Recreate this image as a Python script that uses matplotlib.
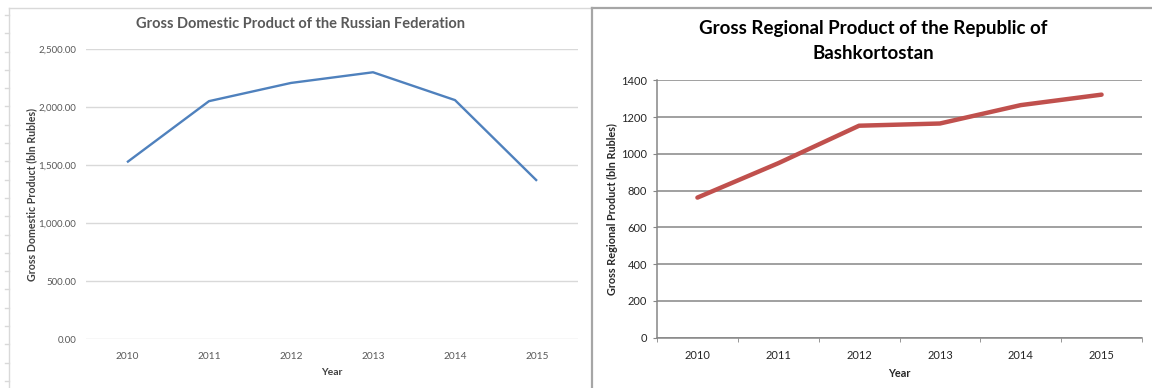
import matplotlib
matplotlib.use("Agg")
import matplotlib.pyplot as plt
from matplotlib.lines import Line2D
import numpy as np

plt.rcParams['font.family'] = ['Lato', 'DejaVu Sans']

# data
years = ['2010', '2011', '2012', '2013', '2014', '2015']
rf_gdp = [1526, 2053, 2210, 2302, 2062, 1366]        # bln rubles
bash_grp = [762, 949, 1153, 1165, 1265, 1322]        # bln rubles
rf_yticks = [0, 500, 1000, 1500, 2000, 2500]
bash_yticks = [0, 200, 400, 600, 800, 1000, 1200, 1400]

W, H = 1152, 388
fig = plt.figure(figsize=(W / 100, H / 100), dpi=100)


def box(x0, y0, x1, y1):
    # pixel box (top-left origin) -> figure fraction rect
    return [x0 / W, 1 - y1 / H, (x1 - x0) / W, (y1 - y0) / H]


def fline(xs, ys, **kw):
    fig.add_artist(Line2D([x / W for x in xs], [1 - y / H for y in ys],
                          transform=fig.transFigure, **kw))


# sheet frame bits
fline([9, 9], [8, 388], color='#d9d9d9', lw=1)
for y in np.arange(15, 388, 18.3):
    fline([5, 9], [y, y], color='#d9d9d9', lw=1)
fline([9, 591], [7.5, 7.5], color='#d9d9d9', lw=1)
fline([591.5, 591.5], [7.5, 388], color='#a6a6a6', lw=1.6)
fline([591.5, 1152], [7.5, 7.5], color='#a6a6a6', lw=1.6)

x = np.arange(len(years))

# ---- Russian Federation GDP
ax1 = fig.add_axes(box(86, 49.3, 578, 339.3))
ax1.plot(x, rf_gdp, color='#4f81bd', lw=1.7, solid_capstyle='butt')
ax1.set_xlim(-0.5, 5.5)
ax1.set_ylim(0, 2500)
ax1.set_yticks(rf_yticks)
ax1.set_yticklabels(['{:,.2f}'.format(v) for v in rf_yticks])
ax1.set_xticks(x)
ax1.set_xticklabels(years)
ax1.grid(axis='y', color='#d9d9d9', lw=1)
ax1.set_axisbelow(True)
for s in ax1.spines.values():
    s.set_visible(False)
ax1.tick_params(length=0, labelsize=7, colors='#595959', pad=7)
ax1.tick_params(axis='x', labelsize=7.3, pad=9)
ax1.set_xlabel('Year', fontsize=7.5, fontweight='bold', color='#404040', labelpad=5)
ax1.set_ylabel('Gross Domestic Product (bln Rubles)', fontsize=7.7,
               fontweight='bold', color='#404040')
ax1.yaxis.set_label_coords((37 - 86) / 492, 0.5)
fig.text(300 / W, 1 - 24 / H, 'Gross Domestic Product of the Russian Federation',
         ha='center', va='center', fontsize=10.5, fontweight='bold', color='#595959')

# ---- Bashkortostan GRP
ax2 = fig.add_axes(box(657, 80.3, 1142, 337.7))
ax2.plot(x, bash_grp, color='#c0504d', lw=3.2, solid_capstyle='round')
ax2.set_xlim(-0.5, 5.5)
ax2.set_ylim(0, 1400)
ax2.set_yticks(bash_yticks)
ax2.set_xticks(x)
ax2.set_xticklabels(years)
ax2.set_xticks(np.arange(-0.5, 6, 1), minor=True)
ax2.grid(axis='y', color='#868686', lw=1.1)
ax2.set_axisbelow(True)
for s in ('top', 'right'):
    ax2.spines[s].set_visible(False)
for s in ('left', 'bottom'):
    ax2.spines[s].set_color('#868686')
    ax2.spines[s].set_linewidth(1.1)
ax2.tick_params(axis='y', length=3, color='#868686', labelsize=8, labelcolor='#262626', pad=4)
ax2.tick_params(axis='x', which='major', length=0, labelsize=8, labelcolor='#262626', pad=9)
ax2.tick_params(axis='x', which='minor', length=3, color='#868686')
ax2.set_xlabel('Year', fontsize=7.8, fontweight='bold', color='#262626', labelpad=5)
ax2.set_ylabel('Gross Regional Product (bln Rubles)', fontsize=7.8,
               fontweight='bold', color='#262626')
ax2.yaxis.set_label_coords((618.5 - 657) / 485, 0.5)
fig.text(873 / W, 1 - 41 / H, 'Gross Regional Product of the Republic of\nBashkortostan',
         ha='center', va='center', fontsize=13.5, fontweight='bold', color='#000000',
         linespacing=1.62)

fig.savefig('out.png', dpi=100, facecolor='white')
